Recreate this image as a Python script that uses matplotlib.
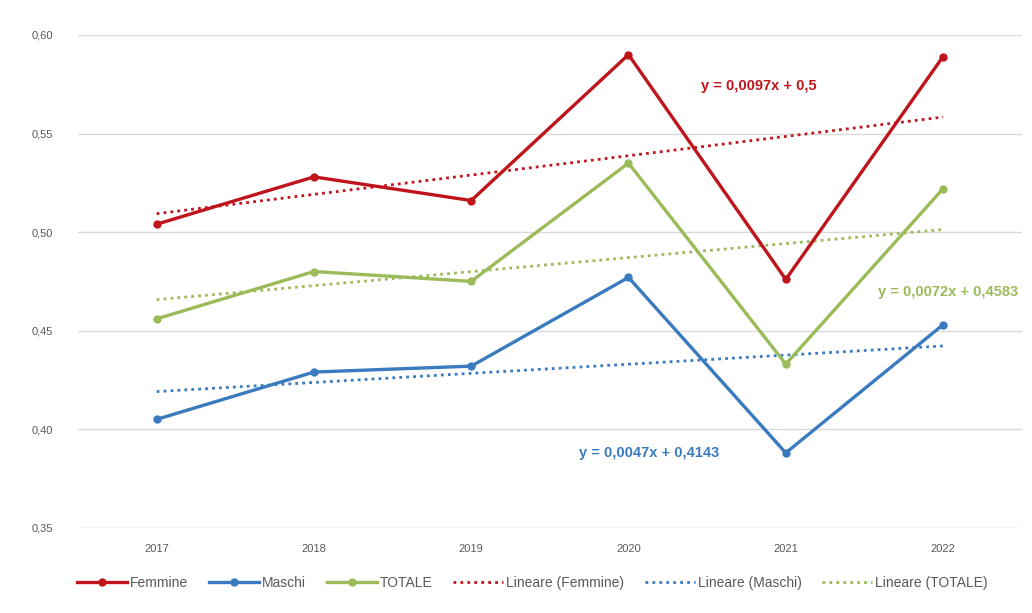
import numpy as np
import matplotlib
matplotlib.use("Agg")
import matplotlib.pyplot as plt

# values
anni = ["2017", "2018", "2019", "2020", "2021", "2022"]
femmine = [0.504, 0.528, 0.516, 0.590, 0.476, 0.589]
maschi = [0.405, 0.429, 0.432, 0.477, 0.388, 0.453]
totale = [0.456, 0.480, 0.475, 0.535, 0.433, 0.522]

col_f = "#C0141C"
col_m = "#3A7BBF"
col_t = "#9BBB59"

plt.rcParams['font.family'] = ['Liberation Sans', 'DejaVu Sans']

fig = plt.figure(figsize=(10.32, 6.13), dpi=100)
ax = fig.add_axes([0.0756, 0.139, 0.9144, 0.804])

x = np.arange(len(anni))

# series
ax.plot(x, femmine, color=col_f, lw=2.4, marker='o', ms=5, label='Femmine', zorder=4)
ax.plot(x, maschi, color=col_m, lw=2.4, marker='o', ms=5, label='Maschi', zorder=4)
ax.plot(x, totale, color=col_t, lw=2.4, marker='o', ms=5, label='TOTALE', zorder=4)

# linear trendlines (Excel style, x = 1..6)
xx = x + 1
for serie, col, nome in [(femmine, col_f, 'Femmine'), (maschi, col_m, 'Maschi'), (totale, col_t, 'TOTALE')]:
    m, q = np.polyfit(xx, serie, 1)
    ax.plot(x, m * xx + q, color=col, lw=2, linestyle=(0, (1, 1.5)),
            label='Lineare (%s)' % nome, zorder=3)

# trendline equations as shown in the chart
ax.text(3.83, 0.5742, "y = 0,0097x + 0,5", color=col_f, fontsize=10.5, fontweight='bold',
        ha='center', va='center')
ax.text(5.03, 0.4697, "y = 0,0072x + 0,4583", color=col_t, fontsize=10.5, fontweight='bold',
        ha='center', va='center', clip_on=False)
ax.text(3.13, 0.3880, "y = 0,0047x + 0,4143", color=col_m, fontsize=10.5, fontweight='bold',
        ha='center', va='center')

ax.set_xlim(-0.5, 5.5)
ax.set_ylim(0.35, 0.60)
yt = [0.35, 0.40, 0.45, 0.50, 0.55, 0.60]
ax.set_yticks(yt)
ax.set_yticklabels([("%.2f" % v).replace('.', ',') for v in yt])
ax.set_xticks(x)
ax.set_xticklabels(anni)
ax.tick_params(axis='both', length=0, labelsize=8, colors='#595959')
ax.tick_params(axis='y', pad=18)
ax.tick_params(axis='x', pad=12)
ax.grid(axis='y', color='#D9D9D9', lw=1)
ax.set_axisbelow(True)
for s in ax.spines.values():
    s.set_visible(False)

leg = fig.legend(loc='center', bbox_to_anchor=(0.516, 0.049), ncol=6, frameon=False,
                 fontsize=10, handlelength=3.6, columnspacing=1.5, handletextpad=0.2)
for t in leg.get_texts():
    t.set_color('#595959')

fig.savefig("out.png", dpi=100)
